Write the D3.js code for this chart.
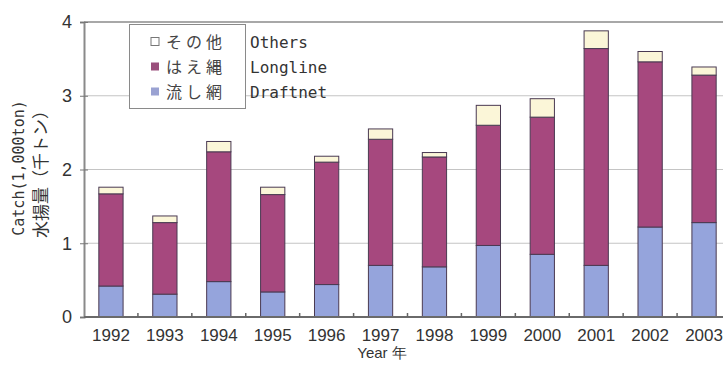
<!DOCTYPE html>
<html>
<head>
<meta charset="utf-8">
<script src="https://cdn.jsdelivr.net/npm/d3@7"></script>
<style>
  html, body { margin: 0; padding: 0; background: #fff; }
  svg { display: block; }
</style>
</head>
<body>
<svg id="chart" width="723" height="365"></svg>
<script>
// Catch by gear type, 1992–2003 (thousand tons)
const years = ["1992","1993","1994","1995","1996","1997","1998","1999","2000","2001","2002","2003"];
const draftnet = [0.42,0.31,0.48,0.34,0.44,0.70,0.68,0.97,0.85,0.70,1.22,1.28];
const longline = [1.25,0.97,1.76,1.32,1.66,1.71,1.49,1.63,1.86,2.94,2.24,2.00];
const others   = [0.09,0.09,0.14,0.10,0.08,0.14,0.06,0.27,0.25,0.24,0.14,0.11];
const yTicks = [0,1,2,3,4];

const seriesKeys = ["draftnet","longline","others"];
const colors = { draftnet: "#95a4dc", longline: "#a6487e", others: "#fbf6d8" };
const legendItems = [
  { jp: "その他", en: "Others",   key: "others" },
  { jp: "はえ縄", en: "Longline", key: "longline" },
  { jp: "流し網", en: "Draftnet", key: "draftnet" }
];

const table = years.map((y, i) => ({ year: y, draftnet: draftnet[i], longline: longline[i], others: others[i] }));
const stacked = d3.stack().keys(seriesKeys)(table);

const svg = d3.select("#chart");
const plotLeft = 84, plotRight = 731, plotTop = 22, plotBottom = 317;

const x = d3.scaleBand().domain(years).range([plotLeft, plotRight]).paddingInner(0.55).paddingOuter(0.275);
const y = d3.scaleLinear().domain([0, 4]).range([plotBottom, plotTop]);

// horizontal grid lines
svg.append("g").selectAll("line")
  .data(yTicks.filter(t => t > 0 && t < 4))
  .join("line")
  .attr("x1", plotLeft).attr("x2", 723)
  .attr("y1", d => y(d)).attr("y2", d => y(d))
  .attr("stroke", "#c4c4c4").attr("stroke-width", 1.2);

// top border line
svg.append("line")
  .attr("x1", plotLeft).attr("x2", 723)
  .attr("y1", y(4)).attr("y2", y(4))
  .attr("stroke", "#a8a8a8").attr("stroke-width", 2);

// stacked bars
svg.append("g").selectAll("g")
  .data(stacked)
  .join("g")
  .attr("fill", d => colors[d.key])
  .selectAll("rect")
  .data(d => d)
  .join("rect")
  .attr("x", d => x(d.data.year))
  .attr("width", x.bandwidth())
  .attr("y", d => y(d[1]))
  .attr("height", d => y(d[0]) - y(d[1]))
  .attr("stroke", "#4a3a52").attr("stroke-width", 1);

// left axis
const yAxis = d3.axisLeft(y).tickValues(yTicks).tickSize(4).tickPadding(8).tickFormat(d3.format("d"));
const gy = svg.append("g").attr("transform", `translate(${plotLeft},0)`).call(yAxis);
gy.select(".domain").attr("stroke", "#8a8a8a").attr("stroke-width", 2);
gy.selectAll(".tick line").attr("stroke", "#777").attr("x2", 4).attr("x1", -4);
gy.selectAll(".tick text")
  .attr("font-family", "Liberation Sans, Arial, sans-serif")
  .attr("font-size", 18).attr("fill", "#333");

// bottom axis: labels at band centres, ticks at band boundaries
const gx = svg.append("g").attr("transform", `translate(0,${plotBottom})`);
gx.append("line").attr("x1", plotLeft).attr("x2", 723).attr("y1", 0).attr("y2", 0)
  .attr("stroke", "#6a6a6a").attr("stroke-width", 2);
gx.selectAll("line.sep")
  .data(years.slice(1))
  .join("line").attr("class", "sep")
  .attr("x1", d => x(d) - x.step() * x.paddingInner() / 2)
  .attr("x2", d => x(d) - x.step() * x.paddingInner() / 2)
  .attr("y1", 0).attr("y2", -4)
  .attr("stroke", "#666").attr("stroke-width", 1.5);
gx.selectAll("text")
  .data(years)
  .join("text")
  .attr("x", d => x(d) + x.bandwidth() / 2)
  .attr("y", 24)
  .attr("text-anchor", "middle")
  .attr("font-family", "Liberation Sans, Arial, sans-serif")
  .attr("font-size", 17).attr("fill", "#333")
  .text(d => d);

// axis titles
svg.append("text")
  .attr("transform", "translate(382,358)")
  .attr("text-anchor", "middle")
  .attr("font-family", "Liberation Sans, Arial, sans-serif")
  .attr("font-size", 15).attr("fill", "#333")
  .text("Year 年");

svg.append("text")
  .attr("transform", "translate(24,168) rotate(-90)")
  .attr("text-anchor", "middle")
  .attr("font-family", "DejaVu Sans Mono, monospace")
  .attr("font-size", 15).attr("fill", "#333")
  .text("Catch(1,000ton)");

svg.append("text")
  .attr("transform", "translate(47,170) rotate(-90)")
  .attr("text-anchor", "middle")
  .attr("font-family", "Noto Sans CJK JP, sans-serif")
  .attr("font-size", 17).attr("fill", "#333")
  .text("水揚量（千トン）");

// legend
const lg = svg.append("g");
lg.append("rect")
  .attr("x", 129.5).attr("y", 24.5).attr("width", 116).attr("height", 84)
  .attr("fill", "#fff").attr("stroke", "#8a8a8a").attr("stroke-width", 1);
const rowY = d3.scalePoint().domain(legendItems.map(d => d.key)).range([42, 92]);
const markerFill = { others: "#ffffff", longline: "#9a4f7c", draftnet: "#9aa2d2" };
lg.selectAll("rect.mk")
  .data(legendItems)
  .join("rect").attr("class", "mk")
  .attr("x", 151).attr("y", d => rowY(d.key) - 4.5)
  .attr("width", 8).attr("height", 8)
  .attr("fill", d => markerFill[d.key])
  .attr("stroke", d => d.key === "others" ? "#777" : "none");
lg.selectAll("text.jp")
  .data(legendItems)
  .join("text").attr("class", "jp")
  .attr("x", 166).attr("y", d => rowY(d.key) + 6)
  .attr("font-family", "Noto Sans CJK JP, sans-serif")
  .attr("font-size", 16).attr("letter-spacing", 4).attr("fill", "#444")
  .text(d => d.jp);
lg.selectAll("text.en")
  .data(legendItems)
  .join("text").attr("class", "en")
  .attr("x", 250).attr("y", d => rowY(d.key) + 6)
  .attr("font-family", "DejaVu Sans Mono, monospace")
  .attr("font-size", 16).attr("fill", "#333")
  .text(d => d.en);
</script>
</body>
</html>
